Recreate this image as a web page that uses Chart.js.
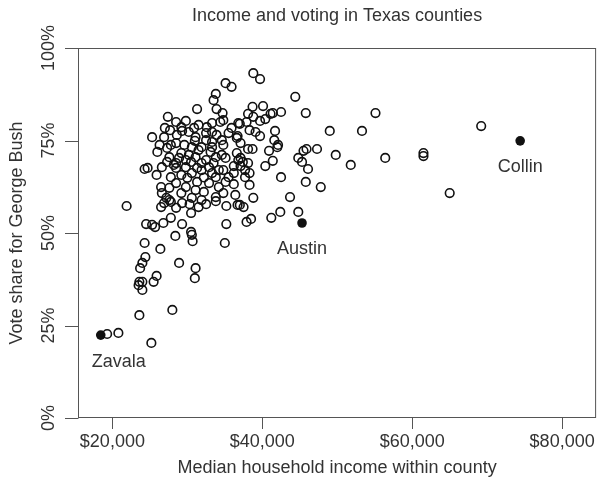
<!DOCTYPE html>
<html>
<head>
<meta charset="utf-8">
<script src="https://cdn.jsdelivr.net/npm/chart.js@4.4.1/dist/chart.umd.min.js"></script>
<style>
    html, body { margin: 0; padding: 0; background: #fff; }
    canvas { display: block; }
</style>
</head>
<body>
<canvas id="votingChart" width="602" height="491"></canvas>
<script>
// median household income ($) per county
const incomes = [
    19300, 20800, 25200, 23600, 28000, 21900, 23600, 24000, 23500, 24000,
    25500, 25900, 24400, 24000, 23700, 28900, 31100, 31000, 24300, 26400,
    28400, 30500, 30600, 30700, 35000, 24500, 25300, 25700, 26800, 27800,
    29300, 30500, 35200, 37900, 38500, 26500, 26900, 27800, 29300, 30300,
    31500, 32500, 33800, 35200, 36700, 37000, 27600, 31900, 38800, 43700,
    41200, 42400, 44800, 33800, 36400, 37500, 27200, 30600, 28500,
    35100, 35900, 33800, 33500, 33900, 34700, 31300, 34400, 34800, 27400,
    28500, 29800, 27000, 31500, 25300, 26900, 28600, 30200, 31100, 32600,
    33300, 35900, 36800, 26000, 27300, 28500, 29600, 30600, 31900, 33300,
    34600, 36600, 24300, 24700, 25900, 26600, 27600, 28500, 29800, 31100,
    32500, 33800, 35100, 36800, 27800, 29200, 30600, 31900, 33300, 34800,
    36200, 37700, 26500, 26600, 28500, 29800, 31100, 32900, 34200, 36200,
    37700,
    38800, 39700, 44400, 45800, 55100, 38700, 40100, 38100, 38800, 39700,
    40400, 41100, 41400, 42500, 37000, 37900, 38300, 39100, 39700, 36700,
    37100, 41700, 41600, 42100, 42000, 40900, 38100, 38700, 49000, 53300,
    45500, 45900, 47300, 49800, 51800, 44800, 45300, 46100, 37100, 37400,
    36200, 38300, 40400, 41400, 42500, 45800, 47800, 38300, 56400, 61500,
    61500, 65000, 69200,
    33300, 32500, 33900, 35500, 27800, 33300, 34800, 28900, 30200, 34600,
    36600, 28500, 29800, 31300, 32900, 34200, 37100, 38100, 32200, 33800,
    35100, 29200, 27300,
    27700, 29300, 30900, 26300, 31000, 32500, 29200, 31500, 33100, 28200,
    30500, 31900, 33500, 30000, 31300, 35500, 29200, 32200, 34800, 27600
];

// Bush share of the vote (%) per county, same order
const bushShare = [
    22.7, 23.0, 20.3, 27.8, 29.2, 57.3, 36.8, 36.8, 35.9, 34.6,
    36.8, 38.4, 43.5, 41.9, 40.5, 41.9, 40.5, 37.8, 47.3, 45.7,
    49.2, 50.3, 49.5, 47.8, 47.3, 52.4, 52.2, 51.6, 52.7, 54.1,
    52.4, 55.4, 52.4, 53.0, 53.8, 57.0, 58.1, 58.4, 58.1, 57.8,
    57.0, 57.8, 58.6, 57.3, 57.6, 57.6, 58.9, 58.9, 59.5, 59.7,
    54.1, 55.7, 55.7, 59.7, 60.3, 57.0, 59.5, 59.5, 56.8,
    90.5, 89.5, 87.6, 85.9, 83.5, 82.4, 83.5, 80.0, 80.5, 81.4,
    80.0, 80.3, 78.4, 79.2, 75.9, 75.9, 76.5, 77.3, 75.9, 78.6,
    77.3, 78.4, 79.7, 71.9, 73.0, 74.3, 73.8, 73.2, 73.2, 74.6,
    75.1, 75.7, 67.3, 67.6, 65.7, 67.8, 70.5, 68.9, 69.7, 70.5,
    69.7, 70.5, 70.3, 69.7, 65.1, 65.7, 66.2, 67.0, 66.2, 67.0,
    66.2, 67.0, 62.4, 60.8, 63.5, 62.4, 61.6, 63.5, 62.4, 63.2,
    65.1,
    93.2, 91.6, 86.8, 82.4, 82.4, 84.1, 84.3, 82.2, 81.4, 80.3,
    80.8, 82.2, 82.4, 82.7, 79.5, 80.0, 77.8, 77.3, 76.2, 76.2,
    74.3, 77.6, 75.1, 73.8, 73.2, 72.2, 72.7, 72.7, 77.6, 77.6,
    72.2, 72.7, 72.7, 71.1, 68.4, 70.3, 69.2, 67.3, 70.3, 69.2,
    68.1, 66.2, 68.1, 69.5, 65.1, 63.8, 62.4, 63.0, 70.3, 71.6,
    70.8, 60.8, 78.9,
    79.7, 77.0, 76.5, 77.0, 73.8, 73.2, 73.8, 70.3, 71.1, 71.1,
    71.6, 67.6, 67.8, 67.6, 67.8, 67.0, 68.1, 68.9, 65.0, 65.1,
    63.8, 78.6, 69.2,
    77.8, 77.6, 78.4, 73.8, 74.9, 75.1, 71.6, 72.4, 71.9, 68.4,
    69.2, 68.9, 68.9, 64.9, 63.8, 65.1, 60.8, 61.1, 60.8, 62.2
];

// the three labelled counties
const highlightNames = ['Zavala', 'Austin', 'Collin'];
const highlightIncomes = [18450, 45300, 74400];
const highlightShare = [22.4, 52.7, 74.9];

const xTicks = [20000, 40000, 60000, 80000];
const xTickLabels = ['$20,000', '$40,000', '$60,000', '$80,000'];
const yTicks = [0, 25, 50, 75, 100];
const yTickLabels = ['0%', '25%', '50%', '75%', '100%'];

const FONT = "'Liberation Sans', Arial, Helvetica, sans-serif";
const TEXT = '#333';

// R-style box, ticks, labels and titles, placed with the chart's own scales
const rAxesPlugin = {
    id: 'rAxes',
    afterDraw(chart) {
        const { ctx, chartArea: a, scales: { x, y } } = chart;
        ctx.save();

        ctx.strokeStyle = '#555';
        ctx.lineWidth = 1;
        ctx.strokeRect(a.left + 0.5, a.top + 0.5, a.right - a.left - 1, a.bottom - a.top - 1);

        ctx.beginPath();
        xTicks.forEach(v => {
            const px = Math.round(x.getPixelForValue(v)) + 0.5;
            ctx.moveTo(px, a.bottom - 0.5);
            ctx.lineTo(px, a.bottom + 11);
        });
        yTicks.forEach(v => {
            const py = Math.round(y.getPixelForValue(v)) + 0.5;
            ctx.moveTo(a.left + 0.5, py);
            ctx.lineTo(a.left - 13, py);
        });
        ctx.stroke();

        ctx.fillStyle = TEXT;
        ctx.font = '18px ' + FONT;
        ctx.textAlign = 'center';
        ctx.textBaseline = 'middle';
        xTicks.forEach((v, i) => {
            ctx.fillText(xTickLabels[i], x.getPixelForValue(v), 442);
        });
        yTicks.forEach((v, i) => {
            ctx.save();
            ctx.translate(49, y.getPixelForValue(v));
            ctx.rotate(-Math.PI / 2);
            ctx.fillText(yTickLabels[i], 0, 0);
            ctx.restore();
        });

        const midX = (a.left + a.right) / 2;
        const midY = (a.top + a.bottom) / 2;
        ctx.fillText('Income and voting in Texas counties', midX, 16);
        ctx.fillText('Median household income within county', midX, 468);
        ctx.save();
        ctx.translate(17, midY);
        ctx.rotate(-Math.PI / 2);
        ctx.fillText('Vote share for George Bush', 0, 0);
        ctx.restore();

        // county names under the filled points
        const offsets = { Zavala: [18, 27], Austin: [0, 26], Collin: [0, 26] };
        highlightNames.forEach((name, i) => {
            const px = x.getPixelForValue(highlightIncomes[i]);
            const py = y.getPixelForValue(highlightShare[i]);
            ctx.fillText(name, px + offsets[name][0], py + offsets[name][1]);
        });

        ctx.restore();
    }
};

const ctx = document.getElementById('votingChart').getContext('2d');
new Chart(ctx, {
    type: 'scatter',
    data: {
        datasets: [
            {
                data: incomes.map((v, i) => ({ x: v, y: bushShare[i] })),
                pointRadius: 4.3,
                pointBorderWidth: 1.6,
                pointBorderColor: '#111',
                pointBackgroundColor: 'rgba(0,0,0,0)'
            },
            {
                data: highlightIncomes.map((v, i) => ({ x: v, y: highlightShare[i] })),
                pointRadius: 4.8,
                pointBorderWidth: 0,
                pointBackgroundColor: '#111'
            }
        ]
    },
    options: {
        responsive: false,
        devicePixelRatio: 1,
        animation: false,
        events: [],
        layout: {
            padding: { left: 78, right: 1, top: 48, bottom: 73 }
        },
        plugins: {
            legend: { display: false },
            tooltip: { enabled: false }
        },
        scales: {
            x: { type: 'linear', display: false, min: 15414, max: 84530 },
            y: { type: 'linear', display: false, min: 0, max: 100 }
        }
    },
    plugins: [rAxesPlugin]
});
</script>
</body>
</html>
